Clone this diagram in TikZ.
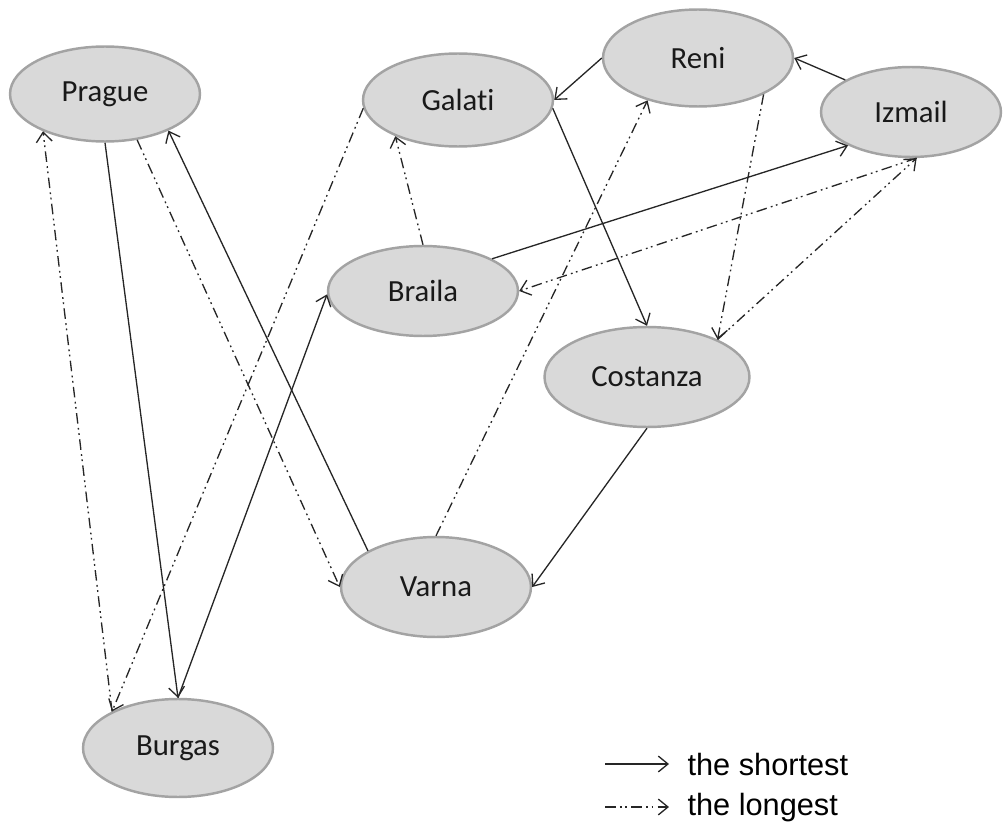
\documentclass[tikz,border=0pt]{standalone}
\usepackage{fontspec}
\setmainfont{Carlito}[Ligatures=NoCommon]
\newfontfamily\legendfont{Liberation Sans}
\usetikzlibrary{arrows.meta, shapes.geometric}
\definecolor{cityfill}{RGB}{217,217,217}
\definecolor{cityline}{RGB}{163,163,163}

\begin{document}
\begin{tikzpicture}[x=0.02cm,y=-0.02cm,->,>={Straight Barb[length=5.5pt,width=9pt]},
                    semithick]
  \tikzstyle{city}=[ellipse,fill=cityfill,draw=cityline,line width=1.4pt,inner sep=0pt,
                    minimum width=3.8cm,minimum height=1.9cm,text=black!90,
                    font=\fontsize{17.5}{20}\selectfont]
  \tikzstyle{shortest}=[line width=0.75pt,black!85]
  \tikzstyle{longest}=[line width=0.75pt,black!85,
                       dash pattern=on 6pt off 2.5pt on 1pt off 2pt on 1pt off 2.5pt]
  \useasboundingbox (0,0) rectangle (1005,828);

  \node[city]                          (prague)   at (105, 94)  {Prague};
  \node[city,minimum height=1.86cm]    (galati)   at (458, 100) {Galati};
  \node[city,minimum height=1.94cm]    (reni)     at (698, 58)  {Reni};
  \node[city,minimum width=3.6cm,minimum height=1.8cm] (izmail) at (911, 112) {Izmail};
  \node[city,minimum height=1.8cm]     (braila)   at (423, 291) {Braila};
  \node[city,minimum width=4.1cm,minimum height=2cm] (costanza) at (647, 377) {Costanza};
  \node[city,minimum height=2cm]       (varna)    at (436, 587) {Varna};
  \node[city,minimum height=1.96cm]    (burgas)   at (178, 748) {Burgas};

  % the shortest
  \path (prague.south)   edge[shortest] (burgas.north)
        (burgas.north)   edge[shortest] (braila.182)
        (braila.25)      edge[shortest] (izmail.208)
        (izmail.154)     edge[shortest] (reni.east)
        (reni.west)      edge[shortest] (galati.east)
        (galati.-5)      edge[shortest] (costanza.north)
        (costanza.south) edge[shortest] (varna.east)
        (varna.152)      edge[shortest] (prague.-30);

  % the longest
  \path (prague.-55)     edge[longest] (varna.west)
        (varna.north)    edge[longest] (reni.220)
        (reni.-29)       edge[longest] (costanza.28)
        (costanza.28)    edge[longest] (izmail.-83)
        (izmail.-83)     edge[longest] (braila.east)
        (braila.north)   edge[longest] (galati.210)
        (galati.185)     edge[longest] (burgas.151)
        (burgas.151)     edge[longest] (prague.211);

  % legend
  \coordinate (s1) at (605, 764);
  \coordinate (s2) at (669, 764);
  \coordinate (l1) at (605, 807);
  \coordinate (l2) at (669, 807);
  \draw[shortest] (s1) -- (s2);
  \draw[longest]  (l1) -- (l2);
  \node[anchor=base west,inner sep=0pt,font=\legendfont\fontsize{17.5}{20}\selectfont] (shortlbl) at (687, 775) {the shortest};
  \node[anchor=base west,inner sep=0pt,font=\legendfont\fontsize{17.5}{20}\selectfont] (longlbl)  at (687, 815) {the longest};
\end{tikzpicture}
\end{document}
